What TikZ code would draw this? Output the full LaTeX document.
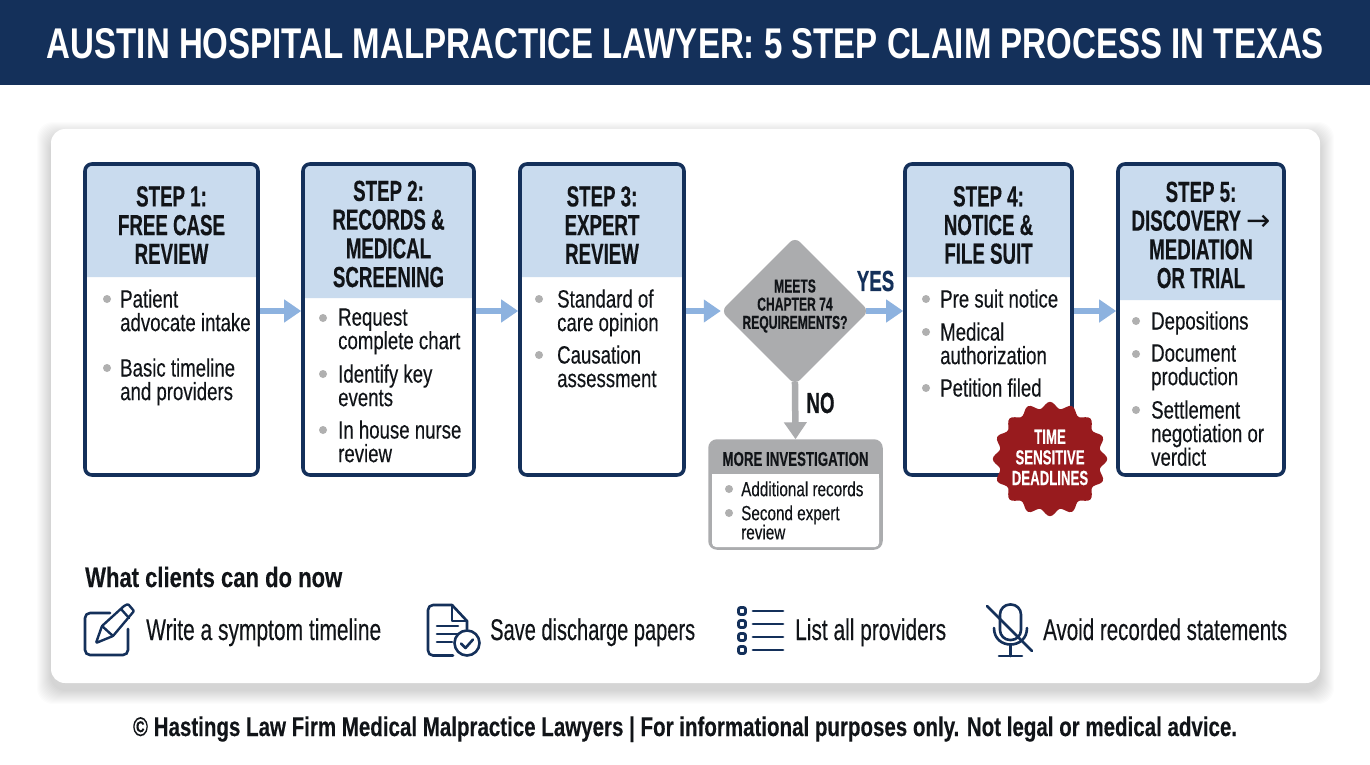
\documentclass[tikz,border=0pt]{standalone}
\usepackage{fontspec}
\usepackage{graphicx}
\usetikzlibrary{arrows.meta,shapes.geometric,calc}
\setmainfont{Liberation Sans}
\newfontfamily\hfont[FakeStretch=0.645,FakeBold=0.3]{Liberation Sans}
\newfontfamily\bfont[FakeStretch=0.745,FakeBold=0.25]{Liberation Sans}
\newfontfamily\arrowfont{DejaVu Sans}
\definecolor{navy}{HTML}{14305A}
\definecolor{hdrblue}{HTML}{C9DBEE}
\definecolor{arrowblue}{HTML}{8DB2DF}
\definecolor{midgray}{HTML}{ABACAE}
\definecolor{dotgray}{HTML}{B0B0B0}
\definecolor{badgered}{HTML}{981B1E}
\definecolor{ink}{HTML}{111418}
\newcommand{\fitw}[2]{\resizebox{#1pt}{\height}{#2}}
\newcommand{\firstline}{\rule{0pt}{16.8pt}}
\tikzset{
  stepframe/.style={draw=navy,line width=3.6pt,rounded corners=7pt,inner sep=0pt},
  headtext/.style={font=\fontsize{29}{28.7}\selectfont\hfont\bfseries,align=center,text=ink,inner sep=0pt},
  bodytext/.style={font=\fontsize{25}{23.6}\selectfont\bfont,align=left,text=ink,inner sep=0pt,anchor=north west},
  smalltext/.style={font=\fontsize{20.5}{19.2}\selectfont\bfont,align=left,text=ink,inner sep=0pt,anchor=north west},
  flow/.style={line width=6.5pt,arrowblue,-{Triangle[length=17pt,width=22pt]}},
  flowno/.style={line width=6.5pt,midgray,-{Triangle[length=17pt,width=22pt]}},
  labeltext/.style={font=\fontsize{30}{30}\selectfont\bfont,text=ink,inner sep=0pt,anchor=base west},
  icon/.style={draw=navy,line width=2.6pt,line cap=round,line join=round},
}
\newcommand{\stepbox}[6]{%
  \pgfmathsetmacro{\cxx}{(#2+#3)/2}%
  \pgfmathsetmacro{\wdd}{#3-#2}%
  \node[rectangle,fill=white,minimum width=\wdd pt,minimum height=311pt,rounded corners=7pt,inner sep=0pt] (#1bg) at (\cxx,319.5) {};
  \fill[hdrblue] (#2,#4) [rounded corners=7pt] -- (#2,164) -- (#3,164) [sharp corners] -- (#3,#4) -- cycle;
  \node[stepframe,minimum width=\wdd pt,minimum height=311pt] (#1) at (\cxx,319.5) {};
  \node[headtext] (#1h) at (\cxx,#5) {#6};
}
\newcommand{\bul}[6][bodytext]{%
  \fill[dotgray] (#3,#5) circle (4pt);
  \node[#1] (#2) at (#4,#5-9.8) {\firstline #6};
}
\begin{document}
\begin{tikzpicture}[x=1pt,y=-1pt]
\useasboundingbox (0,0) rectangle (1370,765);
\fill[white] (0,0) rectangle (1370,765);
\fill[navy] (0,0) rectangle (1370,85.5);
\node[font=\fontsize{43}{43}\selectfont\bfseries,text=white,inner sep=0pt,anchor=base] (title) at (685.5,58.5) {\fitw{1277}{AUSTIN HOSPITAL MALPRACTICE LAWYER: 5 STEP CLAIM PROCESS IN TEXAS}};
% card with soft shadow
\foreach \s in {1,2,...,14}{
  \fill[black,opacity=0.011,rounded corners=16pt] (51-\s,129+7-\s) rectangle (1320+\s,683+7+\s);
}
\fill[white,rounded corners=14pt] (51,129) rectangle (1320,683);

\coordinate (flowy) at (0,311);
\stepbox{s1}{85}{258}{277}{225}{STEP 1:\\FREE CASE\\REVIEW}
\stepbox{s2}{303}{474}{298}{234}{STEP 2:\\RECORDS \&\\MEDICAL\\SCREENING}
\stepbox{s3}{520}{684}{277}{225}{STEP 3:\\EXPERT\\REVIEW}
\stepbox{s4}{905}{1072}{277}{225}{STEP 4:\\NOTICE \&\\FILE SUIT}
\stepbox{s5}{1118}{1284}{300}{235}{STEP 5:\\DISCOVERY {\arrowfont\mdseries →}\\MEDIATION\\OR TRIAL}

\bul{a1}{107}{120}{299}{Patient\\advocate intake}
\bul{a2}{107}{120}{368}{Basic timeline\\and providers}
\bul{b1}{323}{338}{318}{Request\\complete chart}
\bul{b2}{323}{338}{374}{Identify key\\events}
\bul{b3}{323}{338}{430}{In house nurse\\review}
\bul{c1}{539}{557}{299}{Standard of\\care opinion}
\bul{c2}{539}{557}{355}{Causation\\assessment}
\bul{d1}{926}{940}{299}{Pre suit notice}
\bul{d2}{926}{940}{332}{Medical\\authorization}
\bul{d3}{926}{940}{388}{Petition filed}
\bul{e1}{1136}{1151}{321}{Depositions}
\bul{e2}{1136}{1151}{354}{Document\\production}
\bul{e3}{1136}{1151}{410}{Settlement\\negotiation or\\verdict}

% decision
\node[diamond,aspect=1,fill=midgray,minimum width=148pt,minimum height=148pt,inner sep=0pt,rounded corners=7pt] (dec) at (795,311) {};
\node[font=\fontsize{18.8}{18.2}\selectfont\hfont\bfseries,align=center,text=ink,inner sep=0pt] (dect) at (795,306) {MEETS\\CHAPTER 74\\REQUIREMENTS?};

% more investigation
\fill[midgray,rounded corners=7pt] (711,442) rectangle (880,548);
\node[rectangle,draw=midgray,line width=3.5pt,rounded corners=7pt,minimum width=171pt,minimum height=107pt,inner sep=0pt] (inv) at (795.5,494.5) {};
\fill[white,rounded corners=4pt] (712,474) rectangle (879,547);
\fill[white] (712,474) rectangle (879,490);
\node[font=\fontsize{20}{20}\selectfont\hfont\bfseries,text=ink,inner sep=0pt] (invh) at (795.5,459) {\fitw{146}{MORE INVESTIGATION}};
\bul[smalltext]{f1}{729}{741}{489}{Additional records}
\bul[smalltext]{f2}{729}{741}{513}{Second expert\\review}

% connectors
\draw[flow] (s1.east |- flowy) -- (s2.west |- flowy);
\draw[flow] (s2.east |- flowy) -- (s3.west |- flowy);
\draw[flow] (s3.east |- flowy) -- (dec.west);
\draw[flow,shorten <=-3pt] (dec.east) -- (s4.west |- flowy);
\draw[flow] (s4.east |- flowy) -- (s5.west |- flowy);
\draw[flowno,shorten <=-3pt] (dec.south) -- (inv.north);
\node[font=\fontsize{29}{29}\selectfont\hfont\bfseries,text=navy,inner sep=0pt] (yes) at (875.5,281) {YES};
\node[font=\fontsize{29}{29}\selectfont\hfont\bfseries,text=ink,inner sep=0pt] (no) at (820.5,403) {NO};

% badge
\fill[badgered] plot[smooth,domain=0:360,samples=145] ({1050+(54+3.2*cos(16*\x))*cos(\x)},{459+(54+3.2*cos(16*\x))*sin(\x)}) -- cycle;
\node[font=\fontsize{20.5}{20.6}\selectfont\hfont\bfseries,align=center,text=white,inner sep=0pt] (badge) at (1050,457.5) {TIME\\SENSITIVE\\DEADLINES};

% clients
\node[font=\fontsize{28}{28}\selectfont\bfont\bfseries,text=ink,inner sep=0pt,anchor=base west] (clients) at (85,587) {\fitw{257}{What clients can do now}};

% pencil icon
\draw[icon,rounded corners=5pt] (110,613) -- (85,613) -- (85,655) -- (128,655) -- (128,629);
\draw[icon,line width=2.4pt,rounded corners=1pt] (96,643) -- (102,626) -- (124,606) -- (128,604) -- (134,611) -- (113,636) -- cycle;
\draw[icon,line width=2.4pt] (102,626) -- (113,636);
\draw[icon,line width=2.4pt] (121,609) -- (129,618);
\node[labeltext] (t1) at (146,640) {\fitw{235}{Write a symptom timeline}};

% document icon
\draw[icon,rounded corners=5pt] (452,605) -- (428,605) -- (428,655.5) -- (453,655.5);
\draw[icon] (452,605) -- (467,621) -- (467,629);
\draw[icon] (452,605) -- (452,621) -- (467,621);
\draw[icon] (437,626) -- (458,626);
\draw[icon] (437,634) -- (458,634);
\draw[icon] (437,642) -- (452,642);
\draw[icon] (467,643) circle (12.5pt);
\draw[icon] (461,643.5) -- (465.5,648) -- (473,639.5);
\node[labeltext] (t2) at (490,640) {\fitw{205}{Save discharge papers}};

% list icon
\foreach \yy in {611,624,637,650}{
  \draw[icon,line width=2.8pt,rounded corners=2pt] (738.5,\yy-3.5) rectangle (745.5,\yy+3.5);
  \draw[icon,line width=2.8pt] (753,\yy) -- (783,\yy);
}
\node[labeltext] (t3) at (795,640) {\fitw{151}{List all providers}};

% mic icon
\draw[icon,rounded corners=10pt] (1000,640) rectangle (1021,604.5);
\draw[icon] (994,628) .. controls (994,650) and (1027,650) .. (1027,628);
\draw[icon] (1010.5,644.5) -- (1010.5,656);
\draw[icon] (999,656) -- (1022,656);
\draw[icon] (987,606) -- (1032,651);
\node[labeltext] (t4) at (1043,640) {\fitw{244}{Avoid recorded statements}};

% footer
\node[font=\fontsize{27}{27}\selectfont\bfont\bfseries,text=ink,inner sep=0pt,anchor=base] (foot) at (685,736) {\fitw{1104}{© Hastings Law Firm Medical Malpractice Lawyers | For informational purposes only. Not legal or medical advice.}};
\end{tikzpicture}
\end{document}
